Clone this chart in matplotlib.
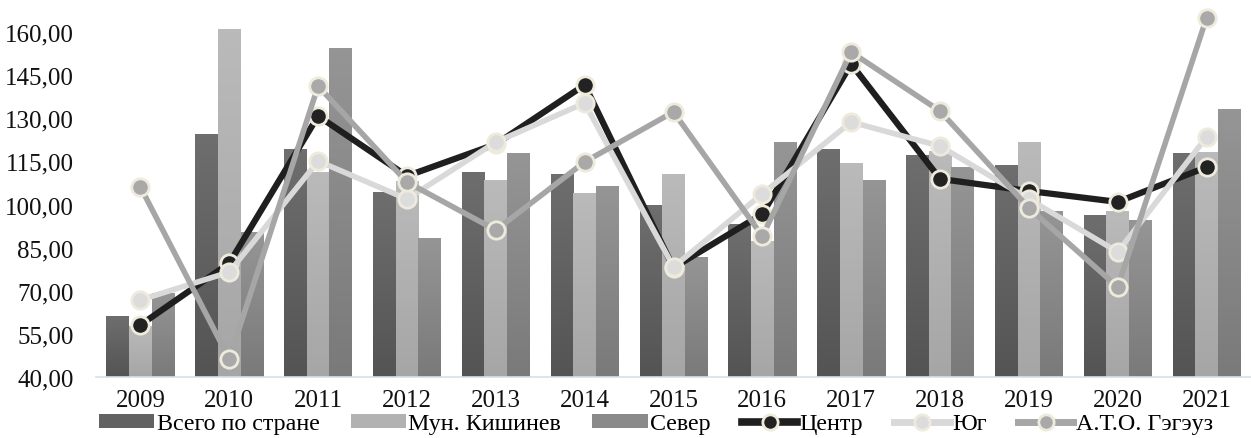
# grouped bars for the three regions plus three line series over the years

import matplotlib.pyplot as plt
import matplotlib.colors as mcolors
import numpy as np
from matplotlib.lines import Line2D
from matplotlib.patches import Patch
from matplotlib.ticker import FuncFormatter

years = ["2009", "2010", "2011", "2012", "2013", "2014", "2015",
         "2016", "2017", "2018", "2019", "2020", "2021"]

vsego = [61.2, 124.2, 119.0, 104.3, 111.3, 110.6, 99.8, 93.2, 119.3, 116.9, 113.7, 96.3, 117.6]
chisinau = [57.4, 160.7, 111.0, 108.0, 108.5, 104.0, 110.6, 87.0, 114.4, 118.6, 121.4, 97.7, 118.0]
sever = [68.9, 90.4, 154.1, 88.3, 117.6, 106.1, 81.7, 121.4, 108.5, 113.0, 97.4, 94.3, 133.2]

centr = [58.1, 79.6, 130.8, 109.9, 121.0, 141.6, 78.0, 96.7, 148.9, 108.9, 104.7, 100.9, 113.0]
yug = [66.8, 76.5, 115.1, 101.9, 121.7, 135.3, 78.3, 103.7, 128.7, 120.3, 101.9, 83.5, 123.5]
gagauz = [106.1, 46.3, 141.2, 107.8, 91.1, 114.8, 132.2, 89.0, 153.0, 132.5, 98.8, 71.3, 164.9]

plt.rcParams['font.family'] = ['Liberation Serif', 'DejaVu Serif']

fig = plt.figure(figsize=(12.51, 4.39), dpi=100)
ax = fig.add_axes([96 / 1251, 1 - 378 / 439, 1 - 96 / 1251, 378 / 439])

x = np.arange(len(years))
w = 0.255

# (top colour, bottom colour) for each bar series
bar_series = [
    (vsego, -w, "#6e6e6e", "#545454", "Всего по стране"),
    (chisinau, 0, "#bababa", "#a6a6a6", "Мун. Кишинев"),
    (sever, w, "#959595", "#7a7a7a", "Север"),
]

for vals, off, top, bot, lab in bar_series:
    bars = ax.bar(x + off, np.array(vals) - 40, w, bottom=40, color=bot, zorder=1)
    cmap = mcolors.LinearSegmentedColormap.from_list("g", [bot, top])
    grad = np.linspace(0, 1, 64).reshape(-1, 1)
    for b in bars:
        x0, y0 = b.get_x(), b.get_y()
        ax.imshow(grad, cmap=cmap, origin="lower", aspect="auto",
                  extent=(x0, x0 + b.get_width(), y0, y0 + b.get_height()),
                  zorder=1.5, interpolation="bilinear")

edge = "#eeeadc"
line_series = [
    (centr, "#1f1f1f", "#222222", 4.5, "Центр"),
    (yug, "#d9d9d9", "#dcdcdc", 4.0, "Юг"),
    (gagauz, "#a6a6a6", "#a9a9a9", 4.0, "А.Т.О. Гэгэуз"),
]
for i, (vals, lc, mc, lw, lab) in enumerate(line_series):
    ax.plot(x, vals, color=lc, lw=lw, marker="o", ms=12.5, mfc=mc,
            mec=edge, mew=2.0, zorder=3 + i, clip_on=False)

ax.set_xlim(-0.5, len(years) - 0.5)
ax.set_ylim(40, 40 + 378 / 2.875)
ax.set_yticks(np.arange(40, 161, 15))
ax.yaxis.set_major_formatter(FuncFormatter(lambda v, p: f"{v:.2f}".replace(".", ",")))
ax.set_xticks(x)
ax.set_xticklabels(years)
ax.tick_params(axis="both", length=0, labelsize=18, colors="#111111")
ax.tick_params(axis="y", pad=16)
ax.tick_params(axis="x", pad=9)

for s in ["top", "right", "left"]:
    ax.spines[s].set_visible(False)
ax.spines["bottom"].set_color("#d6dfee")
ax.spines["bottom"].set_linewidth(1.2)
ax.spines["bottom"].set_zorder(2)

handles = [
    Patch(facecolor="#626262", label=bar_series[0][4]),
    Patch(facecolor="#b2b2b2", label=bar_series[1][4]),
    Patch(facecolor="#8a8a8a", label=bar_series[2][4]),
]
for vals, lc, mc, lw, lab in line_series:
    handles.append(Line2D([], [], color=lc, lw=lw + 1, marker="o", ms=11, mfc=mc,
                          mec=edge, mew=2.0, label=lab))

fig.legend(handles=handles, loc="center left", bbox_to_anchor=(99 / 1251, 1 - 425 / 439),
           ncol=6, frameon=False, fontsize=17.3, borderpad=0, borderaxespad=0,
           handlelength=2.3, handleheight=0.5, handletextpad=0.1, columnspacing=1.3)

fig.savefig("out.png", dpi=100)
